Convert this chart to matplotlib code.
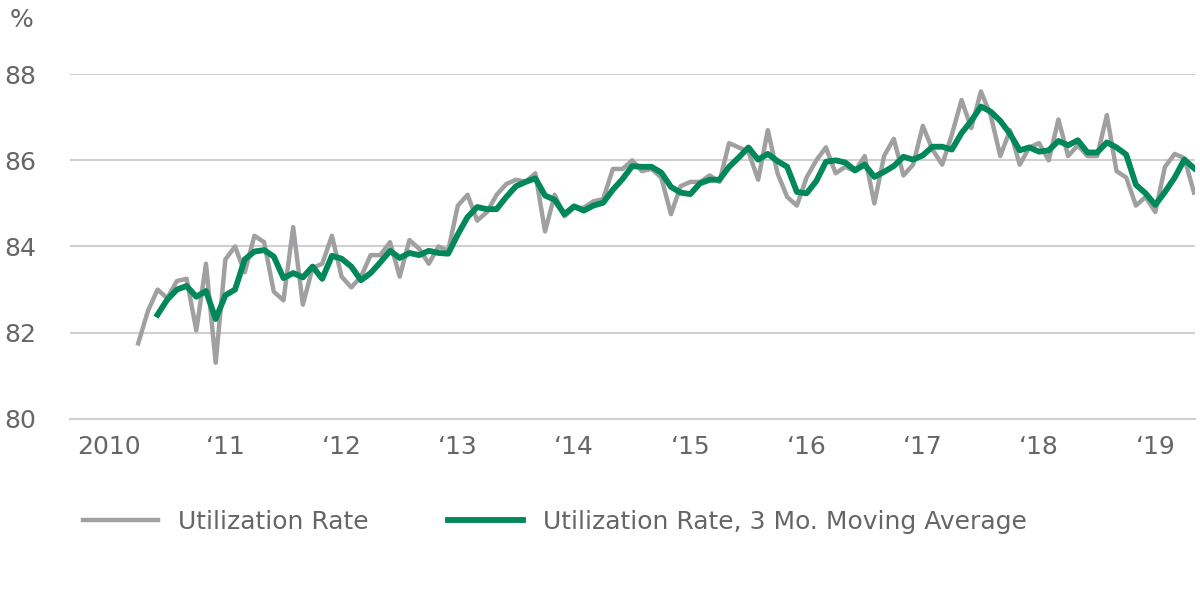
import matplotlib
matplotlib.use("Agg")
import matplotlib.pyplot as plt
import numpy as np
import pandas as pd

start_year = 2010
start_month = 4
utilization = [
    81.75, 82.5, 83.0, 82.8, 83.2, 83.25, 82.05, 83.6,
    81.3, 83.7, 84.0, 83.4, 84.25, 84.1, 82.95, 82.75, 84.45, 82.65, 83.5, 83.6,
    84.25, 83.3, 83.05, 83.3, 83.8, 83.8, 84.1, 83.3, 84.15, 83.95, 83.6, 84.0,
    83.9, 84.95, 85.2, 84.6, 84.8, 85.2, 85.45, 85.55, 85.5, 85.7, 84.35, 85.2,
    84.7, 84.9, 84.9, 85.05, 85.1, 85.8, 85.8, 86.0, 85.75, 85.8, 85.6, 84.75,
    85.4, 85.5, 85.5, 85.65, 85.5, 86.4, 86.3, 86.2, 85.55, 86.7, 85.7, 85.15,
    84.95, 85.6, 86.0, 86.3, 85.7, 85.85, 85.75, 86.1, 85.0, 86.1, 86.5, 85.65,
    85.9, 86.8, 86.25, 85.9, 86.6, 87.4, 86.75, 87.6, 87.05, 86.1, 86.7, 85.9,
    86.3, 86.4, 86.0, 86.95, 86.1, 86.35, 86.1, 86.1, 87.05, 85.75, 85.6, 84.95,
    85.15, 84.8, 85.85, 86.15, 86.05, 85.25,
]
tick_labels = ["2010", "\u201811", "\u201812", "\u201813", "\u201814", "\u201815",
               "\u201816", "\u201817", "\u201818", "\u201819"]

x = start_year + (start_month - 1) / 12 + np.arange(len(utilization)) / 12
ma = pd.Series(utilization).rolling(3).mean()

fig = plt.figure(figsize=(12, 5.89), dpi=100)
ax = fig.add_axes([0.058, 0.289, 0.938, 0.585])
ax.plot(x, utilization, color="#a0a0a2", lw=3.2, label="Utilization Rate")
ax.plot(x, ma, color="#00875a", lw=4.2, label="Utilization Rate, 3 Mo. Moving Average")
ax.set_ylim(80, 88)
ax.set_xlim(2009.66, x[-1] + 0.01)
ax.set_yticks([80, 82, 84, 86, 88])
ax.grid(axis="y", color="#d0d0d0", lw=1.5)
ax.set_axisbelow(True)
for s in ["top", "right", "left"]:
    ax.spines[s].set_visible(False)
ax.spines["bottom"].set_color("#d0d0d0")
ax.spines["bottom"].set_linewidth(1.5)
ax.set_xticks(np.arange(2010, 2020))
ax.set_xticklabels(tick_labels)
ax.tick_params(axis="both", length=0, labelsize=18, colors="#666666", pad=12)
ax.tick_params(axis="y", pad=24)
fig.text(0.008, 0.955, "%", fontsize=18, color="#666666")
fig.legend(loc="lower left", bbox_to_anchor=(0.05, 0.055), ncol=2, frameon=False,
           fontsize=18, handlelength=3.0, columnspacing=3.2, labelcolor="#666666")
fig.savefig("out.png")
